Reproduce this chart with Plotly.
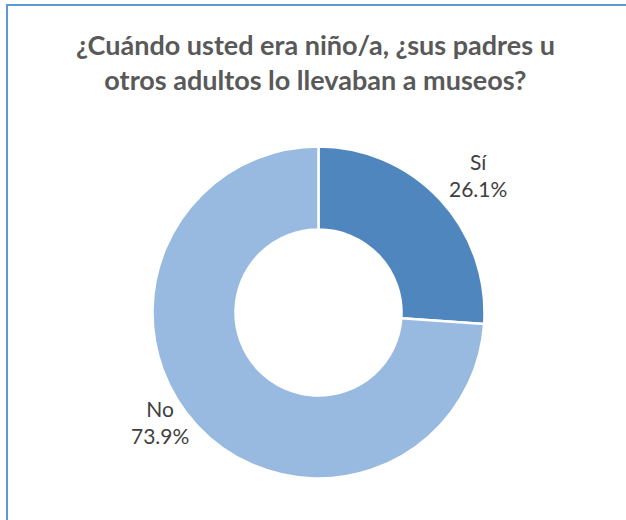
import plotly.graph_objects as go

categories = ["Sí", "No"]
values = [26.1, 73.9]
colors = ["#4F86BE", "#98B9E0"]
title_text = "¿Cuándo usted era niño/a, ¿sus padres u<br>otros adultos lo llevaban a museos?"

W, H = 626, 520
cx, cy, r = 318.5, 312.5, 166

fig = go.Figure(go.Pie(
    labels=categories,
    values=values,
    hole=0.5,
    sort=False,
    direction="clockwise",
    rotation=0,
    marker=dict(colors=colors, line=dict(color="white", width=2.5)),
    textinfo="none",
    hoverinfo="label+percent",
    showlegend=False,
    domain=dict(x=[(cx - r) / W, (cx + r) / W], y=[1 - (cy + r) / H, 1 - (cy - r) / H]),
))

label_pos = [(478, 175), (160, 422)]
annotations = []
for cat, val, (px, py) in zip(categories, values, label_pos):
    annotations.append(dict(
        x=px / W, y=1 - py / H, xref="paper", yref="paper",
        text=f"{cat}<br>{val:.1f}%", showarrow=False,
        font=dict(family="Lato, Open Sans, sans-serif", size=21, color="#404040"),
        align="center", xanchor="center", yanchor="middle",
    ))
annotations.append(dict(
    x=315 / W, y=1 - 62 / H, xref="paper", yref="paper",
    text=f"<b>{title_text}</b>", showarrow=False,
    font=dict(family="Lato, Open Sans, sans-serif", size=27, color="#595959"),
    align="center", xanchor="center", yanchor="middle",
))

fig.update_layout(
    width=W, height=H,
    margin=dict(l=0, r=0, t=0, b=0),
    paper_bgcolor="white", plot_bgcolor="white",
    annotations=annotations,
    shapes=[dict(type="rect", xref="paper", yref="paper",
                 x0=7 / W, x1=1.2, y0=-0.2, y1=1 - 5 / H,
                 line=dict(color="#5B9BD5", width=2))],
)

fig.write_html("out.html", config={"displayModeBar": False},
               post_script="document.body.style.margin='0';")
